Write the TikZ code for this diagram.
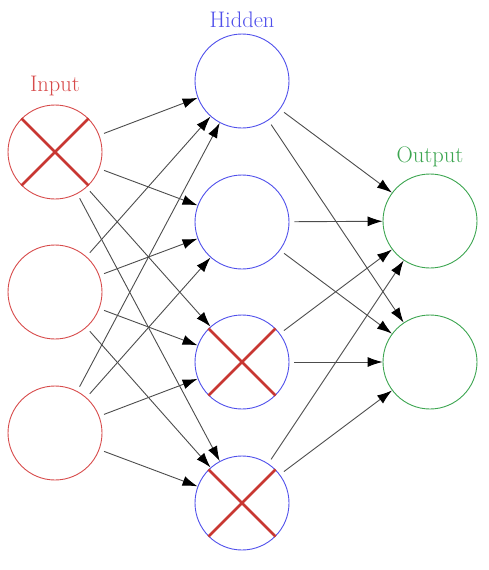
\documentclass[tikz,border=0pt]{standalone}
\usetikzlibrary{arrows.meta}
\definecolor{inred}{RGB}{215,75,75}
\definecolor{hidblue}{RGB}{80,80,235}
\definecolor{outgreen}{RGB}{60,165,80}
\definecolor{crossred}{RGB}{200,55,50}
\begin{document}
\begin{tikzpicture}[x=1pt,y=-1pt,
  neuron/.style={circle,draw,line width=0.9pt,minimum size=94pt,inner sep=0pt},
  innode/.style={neuron,draw=inred},
  hidnode/.style={neuron,draw=hidblue},
  outnode/.style={neuron,draw=outgreen},
  lbl/.style={font=\fontsize{22.5}{26}\selectfont},
  conn/.style={draw=black!70,line width=0.9pt,-{Latex[length=15pt,width=10pt,color=black]},shorten <=5pt},
  crossline/.style={draw=crossred,line width=2.8pt}]
\useasboundingbox (0,0) rectangle (488,570);
\node[innode] (i1) at (55,152) {};
\node[innode] (i2) at (55,292) {};
\node[innode] (i3) at (55,433) {};
\node[hidnode] (h1) at (242,81) {};
\node[hidnode] (h2) at (242,222) {};
\node[hidnode] (h3) at (242,362) {};
\node[hidnode] (h4) at (242,503) {};
\node[outnode] (o1) at (430,221) {};
\node[outnode] (o2) at (430,362) {};
\node[lbl,text=inred] (tin) at (55,86) {Input};
\node[lbl,text=hidblue] (thid) at (242,20) {Hidden};
\node[lbl,text=outgreen] (tout) at (430,157) {Output};
\foreach \i in {i1,i2,i3}
  \foreach \h in {h1,h2,h3,h4}
    \draw[conn] (\i) -- (\h);
\foreach \h in {h1,h2,h3,h4}
  \foreach \o in {o1,o2}
    \draw[conn] (\h) -- (\o);
\foreach \n in {i1,h3,h4} {
  \draw[crossline] (\n.north west) -- (\n.south east);
  \draw[crossline] (\n.north east) -- (\n.south west);
}
\end{tikzpicture}
\end{document}
